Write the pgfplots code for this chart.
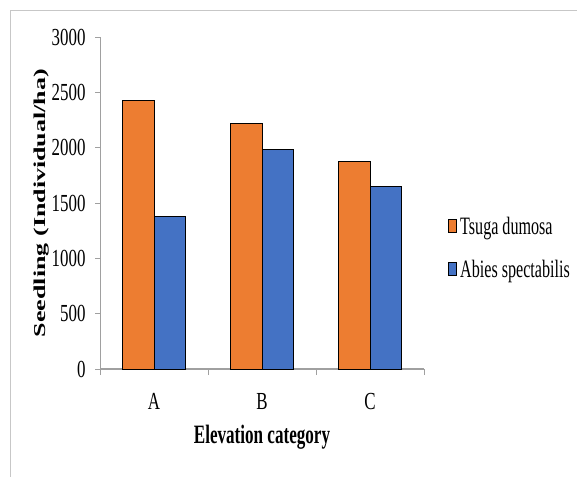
\documentclass[border=0pt]{standalone}
\usepackage{fontspec}
\setmainfont[FakeStretch=0.645]{Liberation Serif}
\newfontfamily\labfont{Liberation Serif}
\newfontfamily\tickfont[FakeStretch=0.69]{Liberation Serif}
\usepackage{graphicx}
\usepackage{pgfplots}
\pgfplotsset{compat=1.18}
\definecolor{torange}{HTML}{ED7D31}
\definecolor{tblue}{HTML}{4472C4}
\definecolor{axgray}{HTML}{A0A0A0}
\begin{document}
\begin{tikzpicture}
\useasboundingbox (0pt,0pt) rectangle (577pt,-476pt);
\begin{scope}
\clip (0pt,0pt) rectangle (577pt,-476pt);
\draw[black!22, line width=1pt] (10pt,-11pt) rectangle (620pt,-520pt);
\end{scope}
\begin{axis}[
  at={(100pt,-369pt)}, anchor=south west,
  scale only axis, width=324pt, height=332pt,
  ybar=0pt, bar width=31.5pt,
  xmin=-0.5, xmax=2.5, ymin=0, ymax=3000,
  axis lines*=left,
  axis line style={axgray, line width=1pt},
  x axis line style={line width=1.5pt},
  xtick={0,1,2}, xticklabels={A,B,C},
  minor xtick={-0.5,0.5,1.5,2.5},
  every major x tick/.append style={draw=none},
  ytick={0,500,1000,1500,2000,2500,3000},
  tick align=outside,
  major tick length=5pt, minor tick length=6pt,
  tick style={axgray, line width=1pt},
  /pgf/number format/assume math mode=true,
  /pgf/number format/1000 sep={},
  tick label style={font=\tickfont\fontsize{24.5}{28}\selectfont},
  xticklabel style={yshift=-16pt},
  yticklabel style={xshift=-6pt},
  xlabel={\bfseries Elevation category},
  xlabel style={font=\fontsize{26.5}{30}\selectfont, at={(axis description cs:0.5,-0.205)}, anchor=center},
  ylabel={\scalebox{1}[0.64]{\labfont\bfseries\fontsize{26}{30}\selectfont Seedling (Individual/ha)}},
  ylabel style={at={(axis description cs:-0.18,0.5)}, anchor=center},
  legend style={at={(axis description cs:1.074,0.364)}, anchor=west, draw=none,
    font=\fontsize{25}{28}\selectfont, row sep=18pt, inner sep=0pt,
    nodes={inner sep=3pt, xshift=1pt}},
  legend cell align=left,
  legend image code/.code={\draw[#1, draw=black, line width=1pt] (0pt,-6pt) rectangle (8pt,7pt);},
]
\addplot[fill=torange, draw=black, line width=1pt] coordinates {(0,2425) (1,2220) (2,1875)};
\addplot[fill=tblue, draw=black, line width=1pt] coordinates {(0,1375) (1,1985) (2,1645)};
\legend{Tsuga dumosa, Abies spectabilis}
\end{axis}
\end{tikzpicture}
\end{document}
